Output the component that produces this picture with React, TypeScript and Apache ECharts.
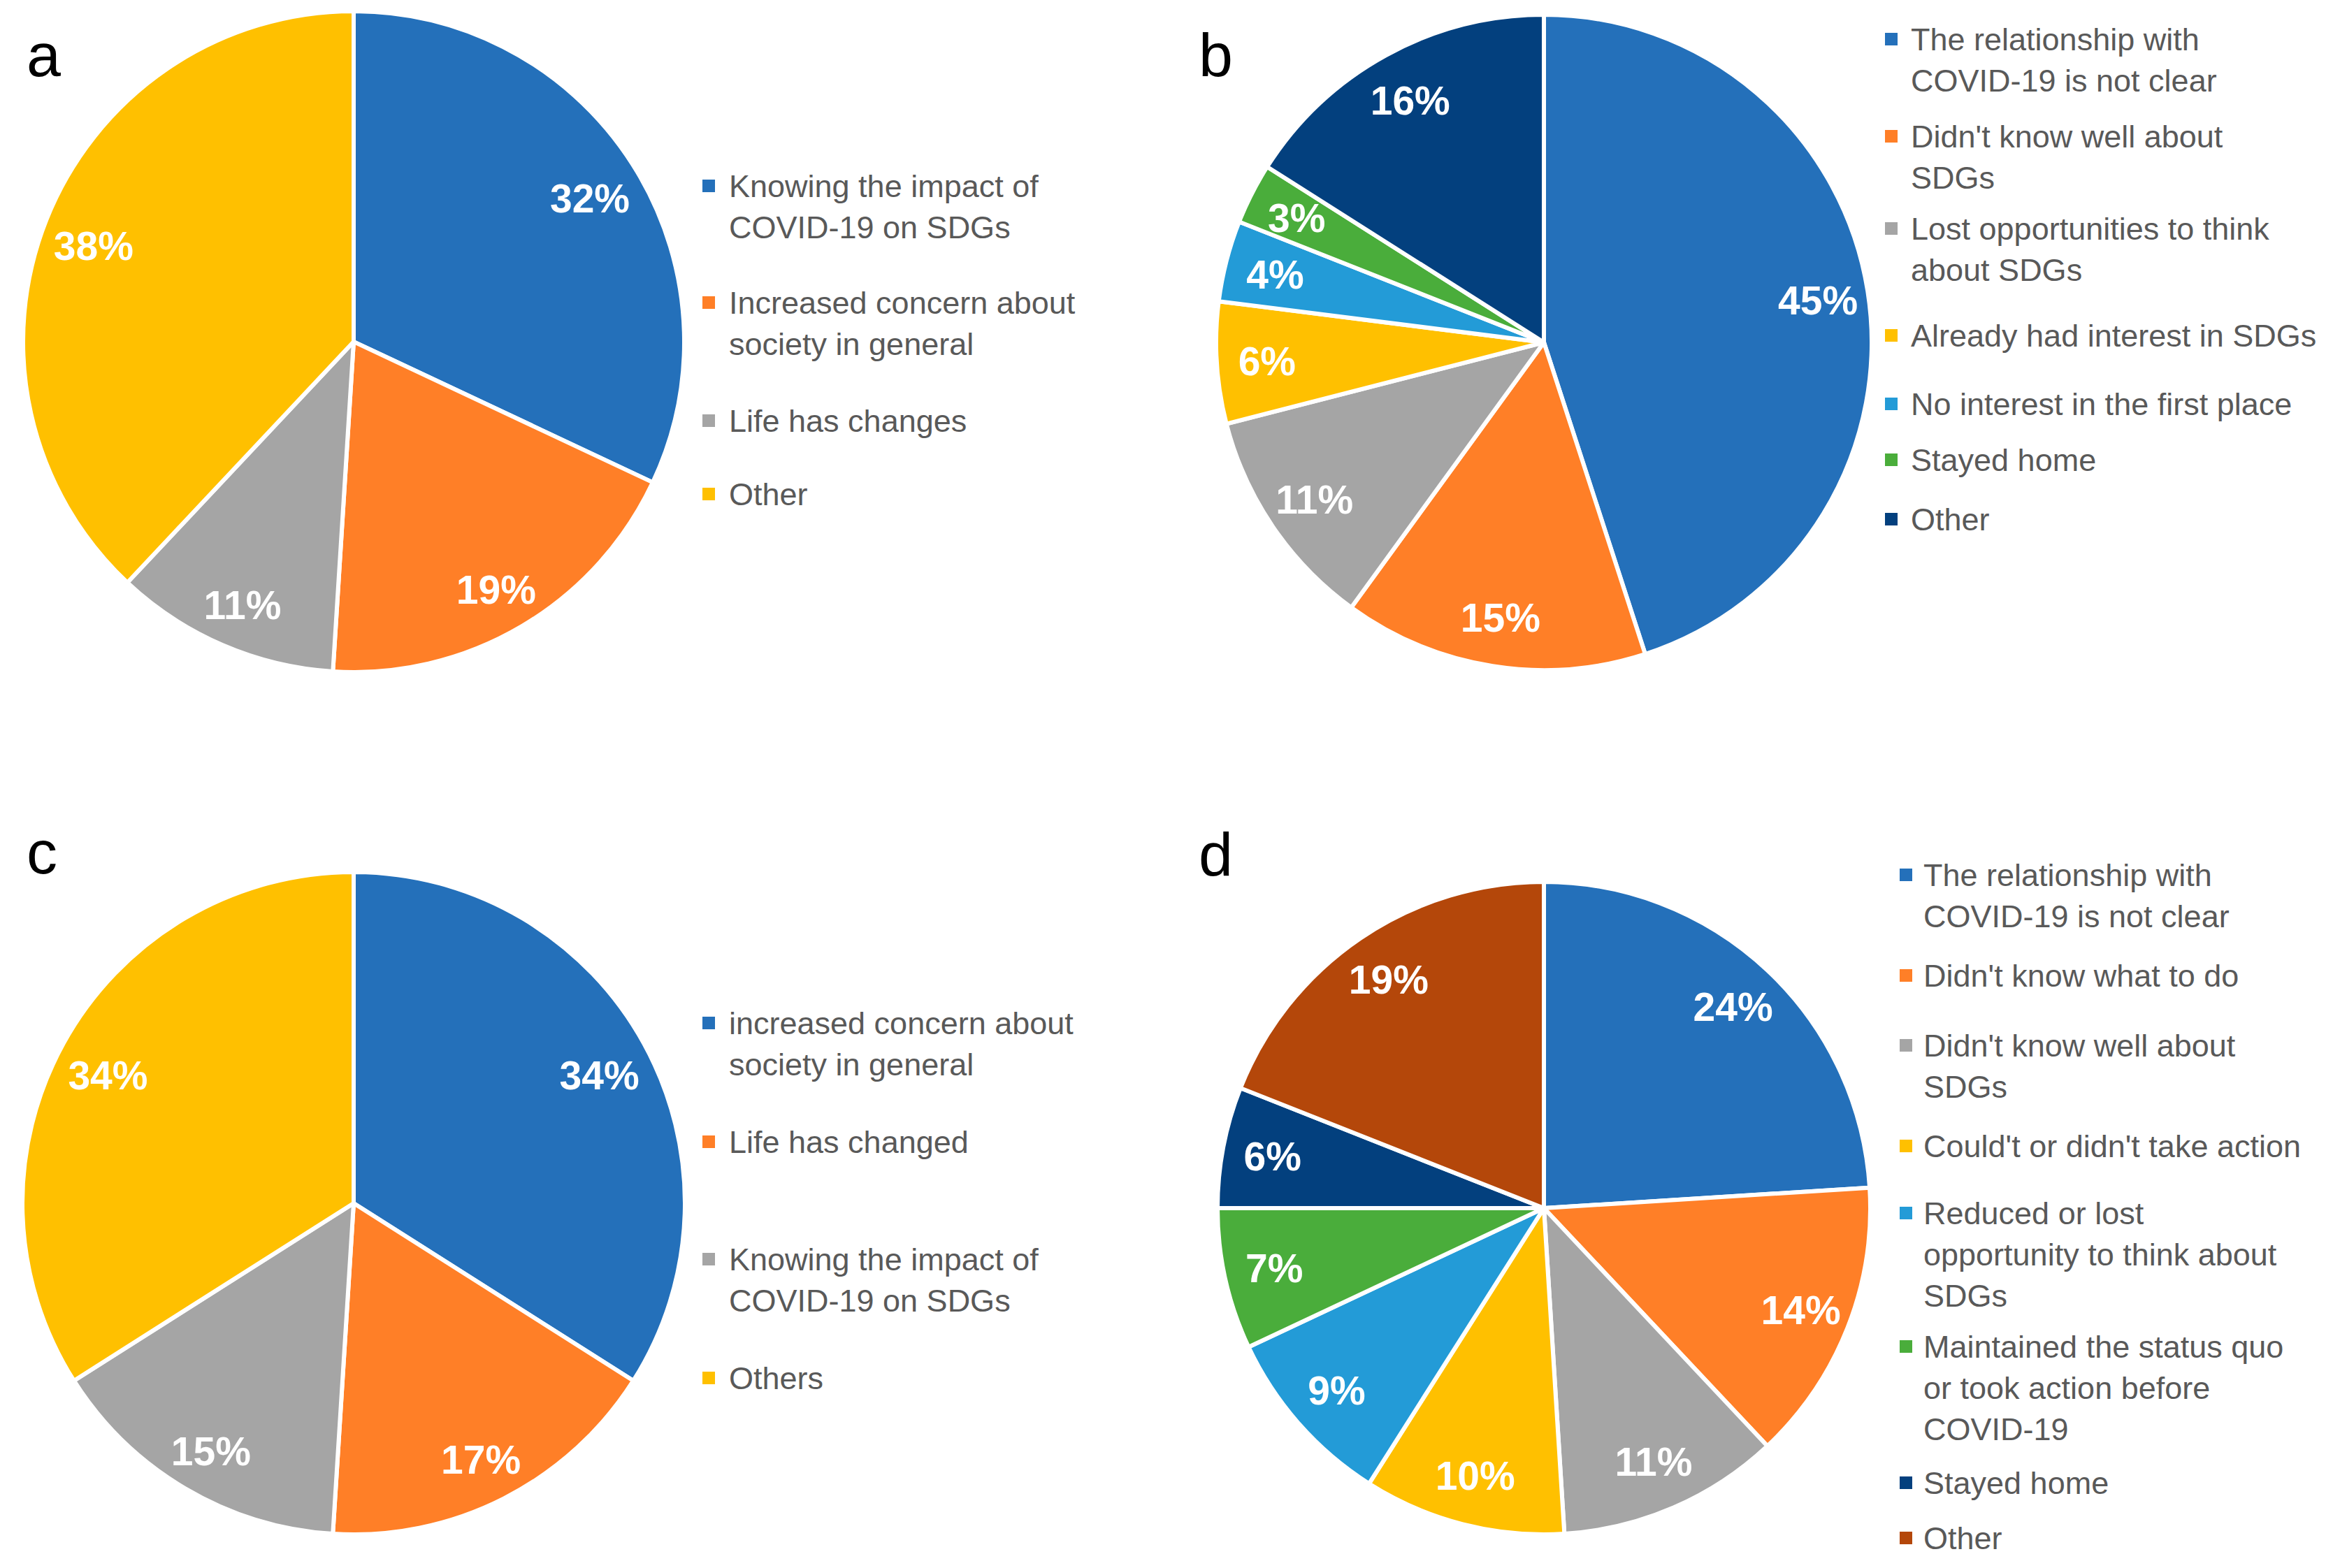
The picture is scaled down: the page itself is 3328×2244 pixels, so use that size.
import React, { useEffect, useRef } from "react";
import * as echarts from "echarts";

// ---------- DATA ----------
const namesA = ["Knowing the impact of\nCOVID-19 on SDGs", "Increased concern about\nsociety in general", "Life has changes", "Other"];
const valuesA = [32, 19, 11, 38];

const namesB = [
  "The relationship with\nCOVID-19 is not clear",
  "Didn't know well about\nSDGs",
  "Lost opportunities to think\nabout SDGs",
  "Already had interest in SDGs",
  "No interest in the first place",
  "Stayed home",
  "Other",
];
const valuesB = [45, 15, 11, 6, 4, 3, 16];

const namesC = ["increased concern about\nsociety in general", "Life has changed", "Knowing the impact of\nCOVID-19 on SDGs", "Others"];
const valuesC = [34, 17, 15, 34];

const namesD = [
  "The relationship with\nCOVID-19 is not clear",
  "Didn't know what to do",
  "Didn't know well about\nSDGs",
  "Could't or didn't take action",
  "Reduced or lost\nopportunity to think about\nSDGs",
  "Maintained the status quo\nor took action before\nCOVID-19",
  "Stayed home",
  "Other",
];
const valuesD = [24, 14, 11, 10, 9, 7, 6, 19];

const panelLetters = ["a", "b", "c", "d"];

// ---------- STYLE / LAYOUT ----------
const palette = ["#2470BA", "#FF7F27", "#A5A5A5", "#FFC000", "#239BD7", "#4AAD3B", "#03407E", "#B4470A"];

const panels = [
  { names: namesA, values: valuesA, cx: 506, cy: 489, r: 473, labelDy: 10, markerX: 1005, textX: 1043, legendY: [266, 433, 602, 707], letterX: 38, letterY: 78 },
  { names: namesB, values: valuesB, cx: 2209, cy: 490, r: 469, labelDy: 2, markerX: 2697, textX: 2734, legendY: [56, 195, 327, 480, 578, 658, 743], letterX: 1715, letterY: 78 },
  { names: namesC, values: valuesC, cx: 506, cy: 1722, r: 474, labelDy: 10, markerX: 1005, textX: 1043, legendY: [1464, 1634, 1802, 1972], letterX: 38, letterY: 1219 },
  { names: namesD, values: valuesD, cx: 2209, cy: 1729, r: 467, labelDy: 0, markerX: 2718, textX: 2752, legendY: [1252, 1396, 1496, 1640, 1736, 1927, 2122, 2201], letterX: 1715, letterY: 1222 },
];

const FONT = '"Liberation Sans", Arial, sans-serif';
const LEGEND_SIZE = 45;
const LEGEND_LH = 59;
const MARKER = 18;

export default function App() {
  const ref = useRef<HTMLDivElement>(null);
  useEffect(() => {
    if (!ref.current) return;
    const chart = echarts.init(ref.current, undefined, { renderer: "svg" });
    const series: any[] = [];
    const graphic: any[] = [];
    panels.forEach((p, pi) => {
      const data = p.values.map((v, i) => ({ value: v, name: p.names[i], itemStyle: { color: palette[i] } }));
      series.push({
        type: "pie",
        center: [p.cx, p.cy],
        radius: p.r,
        startAngle: 90,
        clockwise: true,
        silent: true,
        avoidLabelOverlap: false,
        label: { show: false },
        labelLine: { show: false },
        itemStyle: { borderColor: "#ffffff", borderWidth: 6 },
        data,
      });
      series.push({
        type: "pie",
        center: [p.cx, p.cy],
        radius: [p.r * 0.68, p.r],
        startAngle: 90,
        clockwise: true,
        silent: true,
        avoidLabelOverlap: false,
        z: 5,
        label: {
          show: true,
          position: "inside",
          formatter: "{c}%",
          color: "#ffffff",
          fontWeight: "bold",
          fontSize: 57,
          fontFamily: FONT,
          offset: [0, p.labelDy],
        },
        labelLine: { show: false },
        itemStyle: { color: "rgba(0,0,0,0)", borderWidth: 0 },
        data: p.values.map((v, i) => ({ value: v, name: p.names[i] })),
      });
      // legend
      p.names.forEach((n, i) => {
        const y = p.legendY[i];
        graphic.push({
          type: "rect",
          shape: { x: p.markerX, y: y - MARKER / 2, width: MARKER, height: MARKER },
          style: { fill: palette[i] },
          silent: true,
        });
        graphic.push({
          type: "text",
          x: p.textX,
          y: y - LEGEND_LH / 2,
          style: {
            text: n,
            fill: "#595959",
            fontSize: LEGEND_SIZE,
            fontFamily: FONT,
            lineHeight: LEGEND_LH,
            verticalAlign: "top",
            align: "left",
          },
          silent: true,
        });
      });
      graphic.push({
        type: "text",
        x: p.letterX,
        y: p.letterY,
        style: {
          text: panelLetters[pi],
          fill: "#000000",
          fontSize: 88,
          fontFamily: FONT,
          verticalAlign: "middle",
          align: "left",
        },
        silent: true,
      });
    });
    chart.setOption({
      animation: false,
      backgroundColor: "#ffffff",
      series,
      graphic,
    });
    return () => chart.dispose();
  }, []);
  return (
    <div
      ref={ref}
      style={{ position: "absolute", left: 0, top: 0, width: 3328, height: 2244 }}
    />
  );
}
